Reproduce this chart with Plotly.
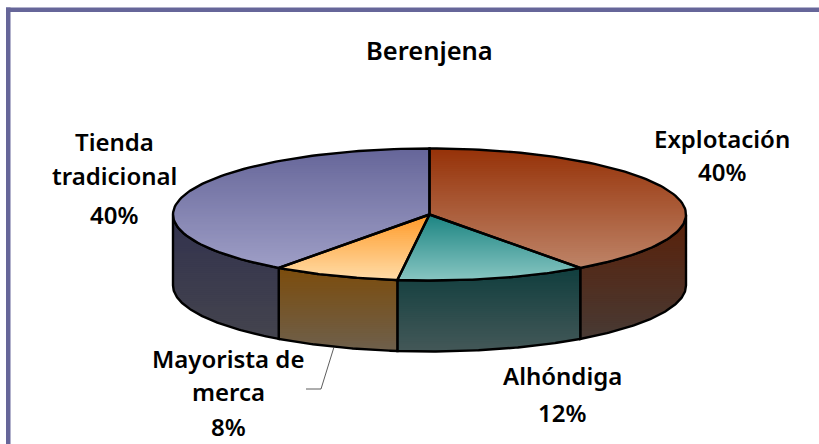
import math
import plotly.graph_objects as go

TITLE = "Berenjena"
categories = ["Explotación", "Alhóndiga", "Mayorista de merca", "Tienda tradicional"]
values = [40, 12, 8, 40]
top_from = ["#963208", "#1C8482", "#FF9A28", "#666699"]
top_to = ["#BE8468", "#88C6C2", "#FFDCA8", "#9E9EC6"]
wall_from = ["#5A2008", "#103E3E", "#7C4C0C", "#32324E"]
wall_to = ["#483A34", "#445858", "#6E604C", "#44444E"]
label_lines = [["Explotación"], ["Alhóndiga"], ["Mayorista de", "merca"], ["Tienda", "tradicional"]]
label_x = [722, 562, 228, 114]
label_line_y = [[138, 171], [375, 412], [358, 391, 426], [141, 175, 214]]

W, H = 819, 444
CX, CY, A, B, DEPTH = 429.5, 214.5, 256.5, 66, 71
FONT = "Noto Sans"
FRAME = "#666699"


def pt(deg, dy=0.0):
    r = math.radians(deg)
    return (CX + A * math.sin(r), CY - B * math.cos(r) + dy)


def arc(a0, a1, dy=0.0, n=90):
    return [pt(a0 + (a1 - a0) * i / n, dy) for i in range(n + 1)]


def clip(poly, y0, y1):
    def half(points, keep, cross):
        out = []
        for i, p in enumerate(points):
            q = points[(i + 1) % len(points)]
            if keep(p):
                out.append(p)
            if keep(p) != keep(q):
                t = (cross - p[1]) / (q[1] - p[1])
                out.append((p[0] + t * (q[0] - p[0]), cross))
        return out
    res = half(poly, lambda p: p[1] >= y0, y0)
    if res:
        res = half(res, lambda p: p[1] <= y1, y1)
    return res


def rgb(c):
    return [int(c[i:i + 2], 16) for i in (1, 3, 5)]


def mix(c0, c1, t):
    a, b = rgb(c0), rgb(c1)
    return "rgb(%d,%d,%d)" % tuple(round(a[i] + (b[i] - a[i]) * t) for i in range(3))


fig = go.Figure()


def gradient(poly, c0, c1, step=2.0):
    ys = [p[1] for p in poly]
    y0, y1 = min(ys), max(ys)
    n = max(1, int((y1 - y0) / step))
    for k in range(n):
        a = y0 + (y1 - y0) * k / n
        b = y0 + (y1 - y0) * (k + 1) / n + 1.0
        part = clip(poly, a, min(b, y1))
        if len(part) < 3:
            continue
        fig.add_trace(go.Scatter(
            x=[p[0] for p in part] + [part[0][0]], y=[p[1] for p in part] + [part[0][1]],
            mode="lines", fill="toself", fillcolor=mix(c0, c1, (k + 0.5) / n),
            line=dict(width=0), hoverinfo="skip", showlegend=False))


def outline(points, width=2.4):
    fig.add_trace(go.Scatter(
        x=[p[0] for p in points], y=[p[1] for p in points], mode="lines",
        line=dict(color="black", width=width), hoverinfo="skip", showlegend=False))


total = sum(values)
edges = [0.0]
for v in values:
    edges.append(edges[-1] + 360.0 * v / total)

# walls, only the part of each slice facing the viewer (90 to 270 degrees)
for i in range(len(values)):
    a0, a1 = max(edges[i], 90), min(edges[i + 1], 270)
    if a1 <= a0:
        continue
    poly = arc(a0, a1) + arc(a1, a0, DEPTH)
    gradient(poly, wall_from[i], wall_to[i])
    outline(poly + [poly[0]])

# top faces
for i in range(len(values)):
    gradient([(CX, CY)] + arc(edges[i], edges[i + 1]), top_from[i], top_to[i])
for i in range(len(values)):
    outline([(CX, CY)] + arc(edges[i], edges[i + 1]) + [(CX, CY)])

# leader line of the small slice
fig.add_trace(go.Scatter(
    x=[334, 321, 306], y=[347, 389, 389], mode="lines",
    line=dict(color="#333333", width=0.8), hoverinfo="skip", showlegend=False))

annotations = [dict(x=429, y=50, text=TITLE, font=dict(family=FONT, size=25.5, color="black", weight=600))]
for i, lines in enumerate(label_lines):
    texts = lines + ["%d%%" % values[i]]
    for text, y in zip(texts, label_line_y[i]):
        annotations.append(dict(x=label_x[i], y=y, text=text,
                                font=dict(family=FONT, size=24, color="black", weight=600)))
for an in annotations:
    an.update(xref="x", yref="y", showarrow=False, xanchor="center", yanchor="middle")

fig.update_layout(
    width=W, height=H, margin=dict(l=0, r=0, t=0, b=0),
    paper_bgcolor="white", plot_bgcolor="white", showlegend=False,
    xaxis=dict(range=[0, W], visible=False, fixedrange=True),
    yaxis=dict(range=[H, 0], visible=False, fixedrange=True),
    annotations=annotations,
    shapes=[
        dict(type="rect", xref="x", yref="y", x0=6, x1=10.5, y0=7.5, y1=H, fillcolor=FRAME, line_width=0),
        dict(type="rect", xref="x", yref="y", x0=6, x1=W, y0=7.5, y1=12, fillcolor=FRAME, line_width=0),
    ],
)
fig.write_html("out.html", config=dict(displayModeBar=False),
               post_script="document.body.style.margin='0';document.body.style.overflow='hidden';")
